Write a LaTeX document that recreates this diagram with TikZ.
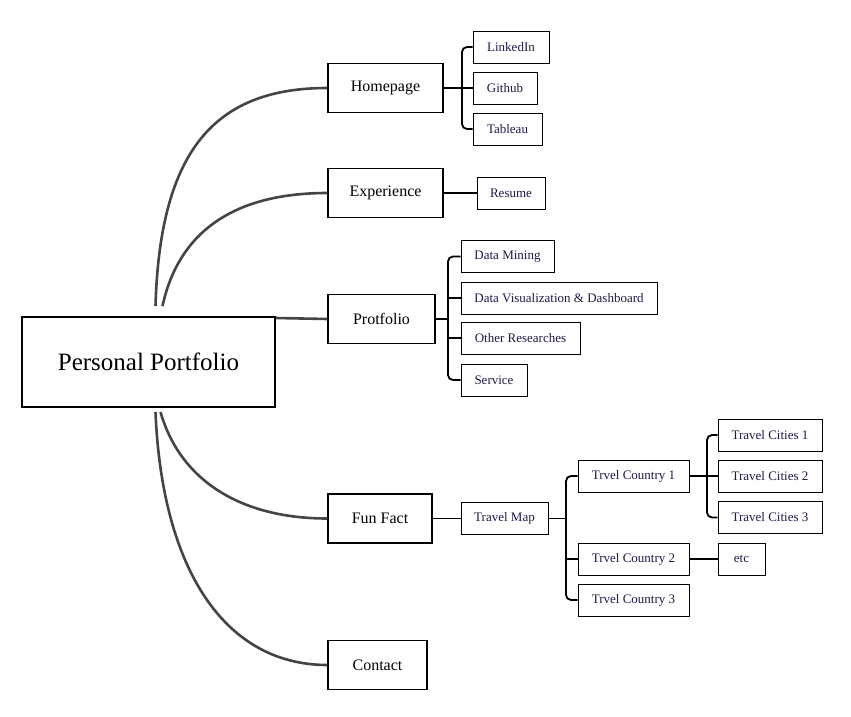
\documentclass[tikz,border=0pt]{standalone}
\usepackage{fontspec}
\setmainfont{Liberation Serif}
\definecolor{navy}{HTML}{1C1A4A}
\definecolor{curvegray}{HTML}{444444}
\tikzset{
  bigbox/.style={draw=black, line width=2pt, minimum width=253pt, minimum height=90pt, inner sep=0pt, font=\fontsize{25}{29}\selectfont},
  midbox/.style={draw=black, line width=1.3pt, minimum height=49pt, inner sep=0pt, font=\fontsize{16}{19}\selectfont},
  smallbox/.style={draw=black, line width=0.9pt, minimum height=32pt, inner sep=0pt, text=navy, font=\fontsize{13}{15}\selectfont},
  maincurve/.style={draw=curvegray, line width=2.6pt},
  branch/.style={draw=black, line width=1.8pt, rounded corners=5pt},
}
\begin{document}
\begin{tikzpicture}[x=1pt, y=-1pt]
\useasboundingbox (0,0) rectangle (851,717);
% main
\node[bigbox] (pp) at (148.5,362) {Personal Portfolio};
% level 1
\node[midbox, minimum width=115pt] (home) at (385.5,88) {Homepage};
\node[midbox, minimum width=115pt] (exp) at (385.5,193) {Experience};
\node[midbox, minimum width=107pt] (port) at (381.5,319) {Protfolio};
\node[midbox, minimum width=104pt] (fun) at (380,518.5) {Fun Fact};
\node[midbox, minimum width=99pt] (cont) at (377.5,665) {Contact};
% homepage children
\node[smallbox, minimum width=76pt] (li) at (511,47) {LinkedIn};
\node[smallbox, minimum width=64pt] (gh) at (505,88) {Github};
\node[smallbox, minimum width=69pt] (tb) at (507.5,129) {Tableau};
% experience child
\node[smallbox, minimum width=68pt] (res) at (511,193) {Resume};
% portfolio children
\node[smallbox, minimum width=93pt] (dm) at (507.5,256.5) {Data Mining};
\node[smallbox, minimum width=196pt] (dv) at (559,298) {Data Visualization \& Dashboard};
\node[smallbox, minimum width=119pt] (or) at (520.5,338) {Other Researches};
\node[smallbox, minimum width=66pt] (sv) at (494,380) {Service};
% fun fact children
\node[smallbox, minimum width=87pt] (tm) at (504.5,518.5) {Travel Map};
\node[smallbox, minimum width=111pt] (tc1) at (633.5,476) {Trvel Country 1};
\node[smallbox, minimum width=111pt] (tc2) at (633.5,559) {Trvel Country 2};
\node[smallbox, minimum width=111pt] (tc3) at (633.5,600) {Trvel Country 3};
\node[smallbox, minimum width=104pt] (ct1) at (770,435) {Travel Cities 1};
\node[smallbox, minimum width=104pt] (ct2) at (770,476) {Travel Cities 2};
\node[smallbox, minimum width=104pt] (ct3) at (770,517.5) {Travel Cities 3};
\node[smallbox, minimum width=47pt] (etc) at (741.5,559) {etc};
% main curves
\draw[maincurve] ([xshift=7pt,yshift=10pt]pp.north) .. controls (160,150) and (215,88) .. (home.west);
\draw[maincurve] ([xshift=14pt,yshift=10pt]pp.north) .. controls (178,235) and (230,193) .. (exp.west);
\draw[maincurve] ([yshift=-2pt]pp.north east) -- (port.west);
\draw[maincurve] ([xshift=12pt,yshift=-4pt]pp.south) .. controls (180,480) and (240,518.5) .. (fun.west);
\draw[maincurve] ([xshift=7pt,yshift=-4pt]pp.south) .. controls (162,570) and (225,665) .. (cont.west);
% homepage branch
\draw[branch] (li.west) -- (462,47) -- (462,129) -- (tb.west);
\draw[branch] (home.east) -- (gh.west);
% experience
\draw[branch] (exp.east) -- (res.west);
% portfolio branch
\draw[branch] (dm.west) -- (448,256.5) -- (448,380) -- (sv.west);
\draw[branch] (port.east) -- (448,319);
\draw[branch] (448,298) -- (dv.west);
\draw[branch] (448,338) -- (or.west);
% fun fact
\draw[branch] (fun.east) -- (tm.west);
\draw[branch] (tc1.west) -- (566,476) -- (566,600) -- (tc3.west);
\draw[branch] (tm.east) -- (566,518.5);
\draw[branch] (566,559) -- (tc2.west);
\draw[branch] (ct1.west) -- (707,435) -- (707,517.5) -- (ct3.west);
\draw[branch] (tc1.east) -- (ct2.west);
\draw[branch] (tc2.east) -- (etc.west);
\end{tikzpicture}
\end{document}
